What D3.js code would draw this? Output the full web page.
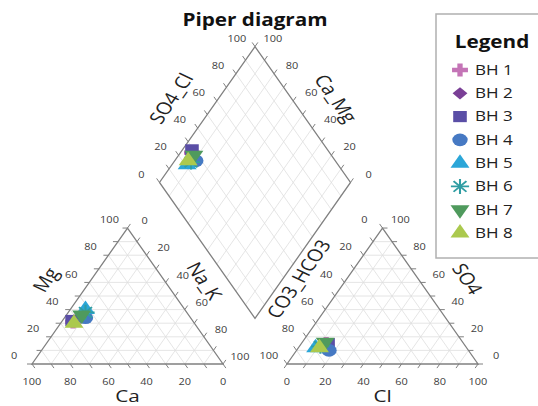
<!DOCTYPE html>
<html>
<head>
<meta charset="utf-8">
<script src="https://cdn.jsdelivr.net/npm/d3@7"></script>
<style>
body { margin: 0; background: #fff; }
text { font-family: "Open Sans", sans-serif; fill: #222; }
</style>
</head>
<body>
<div id="piper"></div>
<script>
// samples and their ion shares (percent)
var samples = ["BH 1", "BH 2", "BH 3", "BH 4", "BH 5", "BH 6", "BH 7", "BH 8"];
var ca   = [63, 62, 63, 55, 52, 53, 56, 63];
var mg   = [31, 32, 32, 34, 40, 38, 36, 30];
var naK  = [6, 6, 5, 11, 8, 9, 8, 7];
var cl   = [13, 14, 14, 17, 9, 11, 12, 11];
var so4  = [15, 14, 15, 10, 12, 13, 16, 12];
var hco3 = [72, 72, 71, 73, 79, 76, 72, 77];
var colors = ["#c474b6", "#7a3f96", "#5a4ea6", "#4679c3", "#2ba6d8", "#2f9da3", "#4f9a5d", "#abc94e"];
var shapes = ["cross", "diamond", "square", "circle", "triangle", "asterisk", "triangleDown", "triangle"];
var tickLabels = [0, 20, 40, 60, 80, 100];

var width = 538, height = 406;
var gap = 0.335, r3 = Math.sqrt(3) / 2;
var sx = 1.217; // the picture is stretched sideways

var svg = d3.select("#piper").append("svg")
    .attr("width", width)
    .attr("height", height);

var x = d3.scaleLinear().domain([0, 2 + gap]).range([32, 478]);
var y = d3.scaleLinear().domain([0, 1]).range([364, 207]);

function px(p) { return [x(p[0]), y(p[1])]; }

var ox = 1 + gap;
var bx = 1 + gap / 2, by = gap * r3;
// diamond position from cation share a = Ca+Mg and anion share s = SO4+Cl
function dia(a, s) { return [bx - a / 2 + s / 2, by + (a + s) * r3]; }

// each axis: labelled end p and far end q of the grid line at value v (0..1)
var axes = [
    { f: function (v) { return [[v / 2, v * r3], [1 - v / 2, v * r3]]; }, off: [-18, -8] },
    { f: function (v) { return [[v + (1 - v) / 2, (1 - v) * r3], [v, 0]]; }, off: [17, -7] },
    { f: function (v) { return [[1 - v, 0], [(1 - v) / 2, (1 - v) * r3]]; }, off: [0, 18] },
    { f: function (v) { return [[ox + 1 - v / 2, v * r3], [ox + v / 2, v * r3]]; }, off: [18, -8] },
    { f: function (v) { return [[ox + (1 - v) / 2, (1 - v) * r3], [ox + 1 - v, 0]]; }, off: [-18, -8] },
    { f: function (v) { return [[ox + v, 0], [ox + v + (1 - v) / 2, (1 - v) * r3]]; }, off: [0, 18] },
    { f: function (v) { return [dia(1, v), dia(0, v)]; }, off: [-18, -8] },
    { f: function (v) { return [dia(v, 1), dia(v, 0)]; }, off: [18, -8] }
];

var steps = d3.range(0, 101, 10);
var grid = svg.append("g");
var ticks = svg.append("g");
var labels = svg.append("g");

axes.forEach(function (ax) {
    var m = ax.f(0.5), a0 = px(m[0]), a1 = px(m[1]);
    var dx = a0[0] - a1[0], dy = a0[1] - a1[1], len = Math.sqrt(dx * dx + dy * dy);
    dx = dx / len * 5; dy = dy / len * 5;

    steps.forEach(function (s) {
        var e = ax.f(s / 100), p = px(e[0]), q = px(e[1]);
        if (s > 0 && s < 100) {
            grid.append("line")
                .attr("x1", p[0]).attr("y1", p[1])
                .attr("x2", q[0]).attr("y2", q[1])
                .attr("stroke", "#dedede")
                .attr("stroke-width", 0.8);
        }
        ticks.append("line")
            .attr("x1", p[0]).attr("y1", p[1])
            .attr("x2", p[0] + dx).attr("y2", p[1] + dy)
            .attr("stroke", "#808080")
            .attr("stroke-width", 1);
    });

    tickLabels.forEach(function (t) {
        var p = px(ax.f(t / 100)[0]);
        labels.append("text")
            .attr("transform", "translate(" + (p[0] + ax.off[0]) + "," + (p[1] + ax.off[1]) + ") scale(" + sx + ",1)")
            .attr("text-anchor", "middle")
            .attr("dy", "0.35em")
            .style("font-size", "9px")
            .style("fill", "#404040")
            .text(t);
    });
});

// outlines
var shapesOutline = [
    [[0, 0], [1, 0], [0.5, r3]],
    [[ox, 0], [ox + 1, 0], [ox + 0.5, r3]],
    [dia(0, 0), dia(0, 1), dia(1, 1), dia(1, 0)]
];
svg.append("g").selectAll("path")
    .data(shapesOutline)
    .enter().append("path")
    .attr("d", function (d) { return "M" + d.map(px).join("L") + "Z"; })
    .attr("fill", "none")
    .attr("stroke", "#808080")
    .attr("stroke-width", 1.3);

// axis titles: text, edge midpoint (unit space), offset, angle
var titles = [
    ["Mg", [0.25, r3 / 2], [-34, -16], -60],
    ["Na_K", [0.75, r3 / 2], [29, -15], 60],
    ["Ca", [0.5, 0], [0, 32], 0],
    ["CO3_HCO3", [ox + 0.25, r3 / 2], [-36, -17], -60],
    ["SO4", [ox + 0.75, r3 / 2], [37, -17], 60],
    ["Cl", [ox + 0.5, 0], [0, 32], 0],
    ["SO4_Cl", [(dia(1, 0)[0] + dia(1, 1)[0]) / 2, (dia(1, 0)[1] + dia(1, 1)[1]) / 2], [-36, -16], -60],
    ["Ca_Mg", [(dia(0, 1)[0] + dia(1, 1)[0]) / 2, (dia(0, 1)[1] + dia(1, 1)[1]) / 2], [33, -16], 60]
];
svg.append("g").selectAll("text")
    .data(titles)
    .enter().append("text")
    .attr("transform", function (d) {
        var p = px(d[1]);
        return "translate(" + (p[0] + d[2][0]) + "," + (p[1] + d[2][1]) + ") scale(" + sx + ",1) rotate(" + d[3] + ")";
    })
    .attr("text-anchor", "middle")
    .attr("dy", "0.35em")
    .style("font-size", "17px")
    .text(function (d) { return d[0]; });

svg.append("text")
    .attr("transform", "translate(" + x(bx) + ",26) scale(" + sx + ",1)")
    .attr("text-anchor", "middle")
    .style("font-size", "17px")
    .style("font-weight", "bold")
    .style("fill", "#111")
    .text("Piper diagram");

var symbolTypes = {
    cross: d3.symbolCross, diamond: d3.symbolSquare, square: d3.symbolSquare,
    circle: d3.symbolCircle, triangle: d3.symbolTriangle, asterisk: d3.symbolPlus,
    triangleDown: d3.symbolTriangle
};
var symbolSizes = { cross: 95, diamond: 75, square: 125, circle: 125, triangle: 105, asterisk: 75, triangleDown: 105 };
var symbolTurn = { diamond: 45, triangleDown: 180 };

function marker(g, i, p) {
    var sh = shapes[i];
    var tr = "translate(" + p[0] + "," + p[1] + ") scale(" + sx + ",1) rotate(" + (symbolTurn[sh] || 0) + ")";
    var m = g.append("path")
        .attr("d", d3.symbol().type(symbolTypes[sh]).size(symbolSizes[sh])())
        .attr("transform", tr);
    if (sh == "asterisk") {
        m.attr("fill", "none").attr("stroke", colors[i]).attr("stroke-width", 1.7);
        g.append("path")
            .attr("d", d3.symbol().type(d3.symbolTimes).size(symbolSizes[sh])())
            .attr("transform", tr)
            .attr("fill", "none")
            .attr("stroke", colors[i])
            .attr("stroke-width", 1.7);
    } else {
        m.attr("fill", colors[i]);
    }
}

var pts = svg.append("g");
samples.forEach(function (s, i) {
    var c = naK[i] / 100, m = mg[i] / 100;
    var a2 = cl[i] / 100, s2 = so4[i] / 100;
    marker(pts, i, px([c + m / 2, m * r3]));
    marker(pts, i, px([ox + a2 + s2 / 2, s2 * r3]));
    marker(pts, i, px(dia(1 - c, 1 - hco3[i] / 100)));
});

// legend
var legend = svg.append("g");
legend.append("rect")
    .attr("x", 436).attr("y", 14)
    .attr("width", 110).attr("height", 244)
    .attr("fill", "#fff")
    .attr("stroke", "#b0b0b0")
    .attr("stroke-width", 1.5);
legend.append("text")
    .attr("transform", "translate(492,48) scale(" + sx + ",1)")
    .attr("text-anchor", "middle")
    .style("font-size", "17px")
    .style("font-weight", "bold")
    .style("fill", "#111")
    .text("Legend");

var ly = d3.scaleLinear().domain([0, samples.length - 1]).range([70, 233]);
samples.forEach(function (s, i) {
    marker(legend, i, [460, ly(i)]);
    legend.append("text")
        .attr("transform", "translate(475," + ly(i) + ") scale(" + sx + ",1)")
        .attr("dy", "0.35em")
        .style("font-size", "14px")
        .text(s);
});
</script>
</body>
</html>
